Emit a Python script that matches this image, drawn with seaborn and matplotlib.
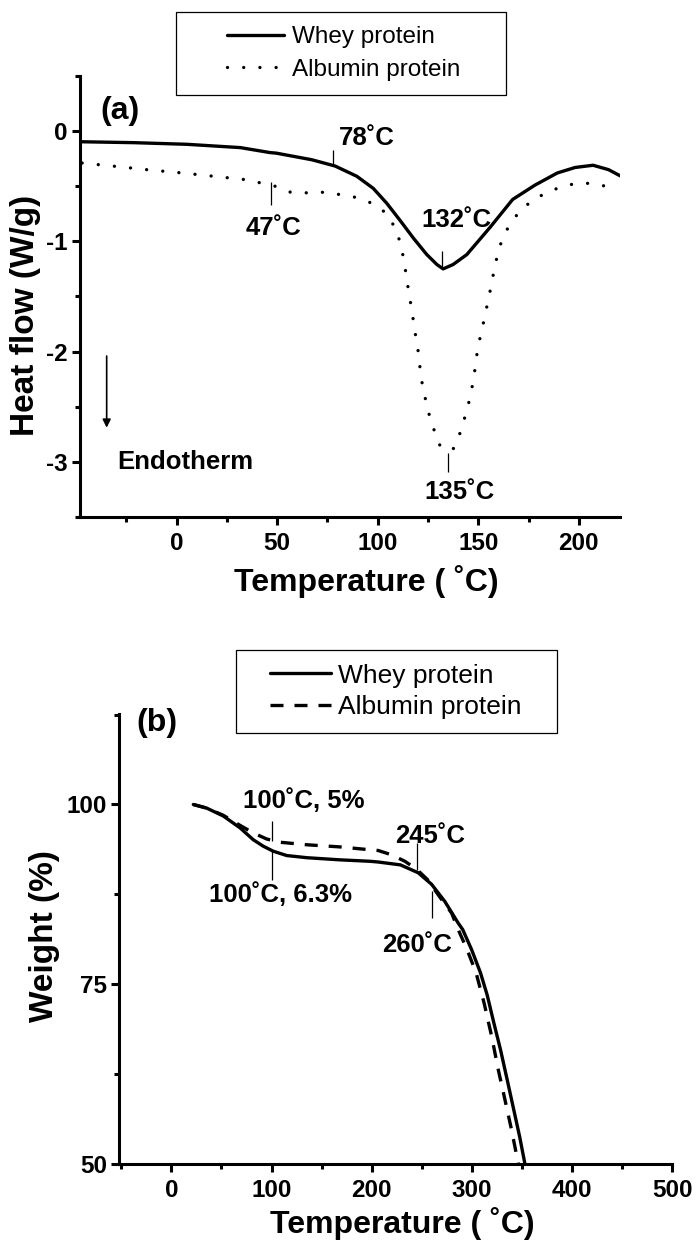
import matplotlib
matplotlib.use("Agg")
import matplotlib.pyplot as plt
from matplotlib.patches import Rectangle
from matplotlib.ticker import MultipleLocator, AutoMinorLocator
import seaborn as sns

# ---------------- DSC data (a) ----------------
dsc_whey_t = [-47, -21.5, 5.1, 31.7, 46.4, 49.5, 67.2, 78.8, 89.6, 97.8, 104.5, 111.1,
              117.7, 124.4, 129.4, 132.5, 137.5, 144.3, 156.0, 167.1, 178.2, 189.3,
              198.2, 207.1, 214.8, 221.0]
dsc_whey_hf = [-0.097, -0.105, -0.12, -0.15, -0.195, -0.20, -0.26, -0.317, -0.41, -0.52,
               -0.655, -0.81, -0.97, -1.12, -1.21, -1.25, -1.21, -1.12, -0.87, -0.62,
               -0.49, -0.38, -0.33, -0.31, -0.35, -0.41]

dsc_alb_t = [-47.0, -30.4, -14.9, 2.9, 18.4, 34.0, 41.7, 48.9, 56.7, 64.7, 72.9, 80.9,
             88.7, 96.5, 104.0, 109.1, 111.6, 113.2, 114.4, 115.7, 117.2, 118.3, 119.8,
             121.6, 123.2, 125.4, 127.6, 130.9, 135.0, 137.6, 140.9, 143.4, 145.6, 147.6,
             149.8, 151.6, 153.6, 156.0, 158.2, 160.5, 164.9, 170.4, 177.1, 184.9, 193.7,
             202.6, 211.5, 219.3]
dsc_alb_hf = [-0.29, -0.32, -0.35, -0.38, -0.41, -0.44, -0.47, -0.50, -0.555, -0.56,
              -0.555, -0.575, -0.60, -0.65, -0.74, -0.89, -1.04, -1.19, -1.34, -1.49,
              -1.65, -1.80, -1.95, -2.24, -2.39, -2.56, -2.69, -2.85, -2.90, -2.88,
              -2.74, -2.59, -2.44, -2.26, -1.96, -1.82, -1.65, -1.44, -1.23, -1.05,
              -0.87, -0.73, -0.625, -0.55, -0.49, -0.47, -0.49, -0.55]

# ---------------- TGA data (b) ----------------
tga_whey_t = [21.9, 35.2, 51.8, 68.5, 81.7, 91.7, 101.7, 115.1, 135.0, 168.3, 198.2,
              206.4, 228.6, 246.4, 259.7, 273.0, 286.3, 290.8, 299.7, 308.5, 315.2,
              321.9, 328.5, 335.2, 341.8, 347.6, 352.9]
tga_whey_w = [100.0, 99.5, 98.4, 96.75, 95.1, 94.2, 93.5, 92.9, 92.6, 92.3, 92.1,
              92.0, 91.6, 90.5, 88.9, 86.5, 83.5, 82.6, 79.8, 76.6, 73.5,
              69.6, 65.9, 61.7, 57.5, 53.8, 50.0]

tga_alb_t = [21.9, 35.2, 51.8, 68.5, 81.7, 95.1, 108.4, 135.0, 168.3, 198.2, 206.4,
             219.8, 233.1, 245.1, 255.3, 268.6, 279.7, 286.3, 295.2, 304.1, 312.1,
             319.6, 326.3, 333.0, 339.6, 346.3]
tga_alb_w = [100.0, 99.5, 98.5, 97.1, 96.05, 95.2, 94.75, 94.4, 94.1, 93.7, 93.6,
             93.0, 92.1, 90.95, 89.6, 87.0, 84.9, 82.6, 79.8, 76.6, 72.4,
             67.8, 63.1, 58.9, 54.7, 50.0]

series_labels = ["Whey protein", "Albumin protein"]

sns.set_style("ticks")
plt.rcParams.update({
    "font.family": ["Liberation Sans", "DejaVu Sans"],
    "font.weight": "bold",
    "axes.unicode_minus": False,
    "text.color": "black",
    "axes.labelcolor": "black",
    "axes.edgecolor": "black",
    "xtick.color": "black",
    "ytick.color": "black",
    "xtick.labelcolor": "black",
    "ytick.labelcolor": "black",
    "legend.labelcolor": "black",
})

fig = plt.figure(figsize=(6.98, 12.47), dpi=100)
ax1 = fig.add_axes([0.1148, 0.5854, 0.7738, 0.3537])
ax2 = fig.add_axes([0.1709, 0.0666, 0.7923, 0.3609])

LW = 2.4
dotted = (0, (0.01, 4.85))
dashed = (0, (3.9, 3.3))

sns.lineplot(x=dsc_whey_t, y=dsc_whey_hf, ax=ax1, color="black", lw=LW,
             linestyle="-", label=series_labels[0], sort=False)
sns.lineplot(x=dsc_alb_t, y=dsc_alb_hf, ax=ax1, color="black", lw=LW,
             linestyle=dotted, dash_capstyle="round", label=series_labels[1], sort=False)

sns.lineplot(x=tga_whey_t, y=tga_whey_w, ax=ax2, color="black", lw=LW,
             linestyle="-", label=series_labels[0], sort=False)
sns.lineplot(x=tga_alb_t, y=tga_alb_w, ax=ax2, color="black", lw=LW,
             linestyle=dashed, label=series_labels[1], sort=False)

bold = dict(fontweight="bold", color="black")

for ax in (ax1, ax2):
    for s in ("top", "right"):
        ax.spines[s].set_visible(False)
    for s in ("left", "bottom"):
        ax.spines[s].set_linewidth(2.2)
        ax.spines[s].set_color("black")
    ax.tick_params(which="major", direction="out", length=6, width=2.2,
                   labelsize=17.5, pad=3, colors="black")
    ax.tick_params(which="minor", direction="out", length=3.5, width=2.2,
                   colors="black")
    ax.tick_params(axis="x", which="major", pad=5)

# ---- panel (a) ----
ax1.set_xlim(-48, 220.6)
ax1.set_ylim(-3.5, 0.5)
ax1.xaxis.set_major_locator(MultipleLocator(50))
ax1.xaxis.set_minor_locator(AutoMinorLocator(2))
ax1.yaxis.set_major_locator(MultipleLocator(1))
ax1.yaxis.set_minor_locator(AutoMinorLocator(2))
ax1.set_xlabel("Temperature ( ˚C)", fontsize=23, **bold)
ax1.xaxis.label.set_va("center")
ax1.xaxis.set_label_coords(0.53, -0.147)
ax1.set_ylabel("Heat flow (W/g)", fontsize=24, **bold)
ax1.yaxis.label.set_va("center")
ax1.yaxis.set_label_coords(-0.102, 0.456)

for x0, y0, y1 in [(78, -0.17, -0.32), (47, -0.46, -0.67),
                   (132, -1.09, -1.24), (135, -2.92, -3.09)]:
    ax1.vlines(x0, y0, y1, color="black", lw=0.9)

ax1.text(80.5, -0.065, "78˚C", fontsize=18.5, ha="left", va="center", **bold)
ax1.text(48.4, -0.88, "47˚C", fontsize=18.5, ha="center", va="center", **bold)
ax1.text(139.1, -0.81, "132˚C", fontsize=18.5, ha="center", va="center", **bold)
ax1.text(140.8, -3.27, "135˚C", fontsize=18.5, ha="center", va="center", **bold)
ax1.text(-29.3, -3.0, "Endotherm", fontsize=18.5, ha="left", va="center", **bold)
ax1.text(-28.2, 0.18, "(a)", fontsize=23, ha="center", va="center", **bold)
ax1.annotate("", xy=(-34.8, -2.69), xytext=(-34.8, -2.04),
             arrowprops=dict(arrowstyle="-|>", lw=1.2, color="black",
                             mutation_scale=12, shrinkA=0, shrinkB=0))

# ---- panel (b) ----
ax2.set_xlim(-52, 500)
ax2.set_ylim(50, 112.6)
ax2.xaxis.set_major_locator(MultipleLocator(100))
ax2.xaxis.set_minor_locator(AutoMinorLocator(2))
ax2.yaxis.set_major_locator(MultipleLocator(25))
ax2.yaxis.set_minor_locator(AutoMinorLocator(2))
ax2.set_xlabel("Temperature ( ˚C)", fontsize=23, **bold)
ax2.xaxis.label.set_va("center")
ax2.xaxis.set_label_coords(0.511, -0.133)
ax2.set_ylabel("Weight (%)", fontsize=24, **bold)
ax2.yaxis.label.set_va("center")
ax2.yaxis.set_label_coords(-0.136, 0.507)

for x0, y0, y1 in [(100, 94.9, 97.7), (100, 89.5, 93.5),
                   (245, 90.9, 94.7), (260, 84.2, 87.9)]:
    ax2.vlines(x0, y0, y1, color="black", lw=0.9)

ax2.text(131.7, 100.6, "100˚C, 5%", fontsize=18.5, ha="center", va="center", **bold)
ax2.text(109.2, 87.5, "100˚C, 6.3%", fontsize=18.5, ha="center", va="center", **bold)
ax2.text(258.6, 95.6, "245˚C", fontsize=18.5, ha="center", va="center", **bold)
ax2.text(245.3, 80.5, "260˚C", fontsize=18.5, ha="center", va="center", **bold)
ax2.text(-14.4, 111.3, "(b)", fontsize=23, ha="center", va="center", **bold)

# ---- legends with rectangular frames ----
def framed_legend(ax, center, box, size, hlen, hpad, lspace):
    handles, labels = ax.get_legend_handles_labels()
    ax.legend(handles[:2], labels[:2], loc="center", bbox_to_anchor=center,
              bbox_transform=fig.transFigure, frameon=False, borderpad=0,
              prop={"size": size, "weight": "normal"}, handlelength=hlen,
              handletextpad=hpad, labelspacing=lspace, labelcolor="black")
    fig.add_artist(Rectangle(box[:2], box[2], box[3], transform=fig.transFigure,
                             fill=False, ec="black", lw=0.9))

framed_legend(ax1, (0.4928, 0.9571), (0.2526, 0.9238, 0.4719, 0.0666),
              17.5, 2.33, 0.33, 0.42)
framed_legend(ax2, (0.5676, 0.4455), (0.3374, 0.4122, 0.4599, 0.0666),
              19, 2.3, 0.28, 0.3)

fig.savefig("out.png", dpi=100, facecolor="white")
